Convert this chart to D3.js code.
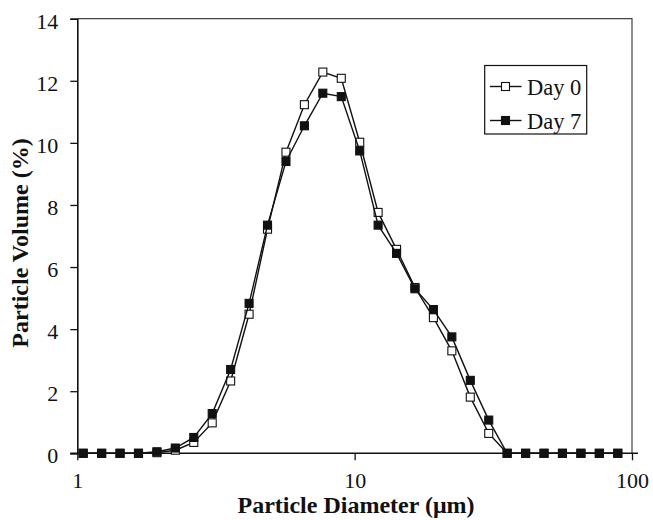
<!DOCTYPE html>
<html>
<head>
<meta charset="utf-8">
<script src="https://cdn.jsdelivr.net/npm/d3@7"></script>
<style>
  html, body { margin: 0; padding: 0; background: #fff; }
  svg { display: block; }
  text { font-family: "Liberation Serif", "Times New Roman", serif; fill: #111; }
</style>
</head>
<body>
<script>
// Particle diameters (µm)
const diameters = [1.05, 1.224, 1.426, 1.662, 1.937, 2.257, 2.63, 3.065, 3.572, 4.163,
  4.851, 5.654, 6.589, 7.678, 8.948, 10.43, 12.15, 14.16, 16.5, 19.23,
  22.41, 26.12, 30.44, 35.47, 41.34, 48.18, 56.14, 65.43, 76.25, 88.86];
// Particle volume (%)
const day0 = [0, 0, 0, 0, 0.02, 0.1, 0.35, 0.98, 2.33, 4.48,
  7.22, 9.7, 11.23, 12.28, 12.08, 10.02, 7.76, 6.57, 5.34, 4.37,
  3.3, 1.81, 0.64, 0, 0, 0, 0, 0, 0, 0];
const day7 = [0, 0, 0, 0, 0.05, 0.17, 0.51, 1.28, 2.7, 4.83,
  7.35, 9.4, 10.55, 11.6, 11.49, 9.74, 7.35, 6.44, 5.3, 4.63,
  3.75, 2.35, 1.07, 0, 0, 0, 0, 0, 0, 0];
const xTicks = [1, 10, 100];
const yTicks = [0, 2, 4, 6, 8, 10, 12, 14];
const seriesNames = ["Day 0", "Day 7"];

(function () {
const W = 653, H = 520;
const pL = 77.3, pR = 632, pT = 18.7, pB = 453.3;

const svg = d3.select("body").append("svg").attr("width", W).attr("height", H);

const x = d3.scaleLog().domain([1, 100]).range([pL, pR]);
const y = d3.scaleLinear().domain([0, 14]).range([pB, pT]);

// plot frame (top and right)
svg.append("path")
  .attr("d", `M${pL},${pT}H${pR}V${pB}`)
  .attr("fill", "none").attr("stroke", "#444").attr("stroke-width", 1.2);

// y axis
const yAxis = d3.axisLeft(y).tickValues(yTicks).tickSize(7).tickPadding(12).tickFormat(d3.format("d"));
const gy = svg.append("g").attr("transform", `translate(${pL},0)`).call(yAxis);
gy.select(".domain").attr("stroke", "#111").attr("stroke-width", 1.6);
gy.selectAll(".tick line").attr("stroke", "#111").attr("stroke-width", 1.3);
gy.selectAll(".tick text").attr("font-size", 22).attr("dy", "0.43em")
  .style("font-family", "Liberation Serif").attr("fill", "#111");

// x axis at y = 0
const xAxis = d3.axisBottom(x).tickValues(xTicks).tickSize(7).tickFormat(d3.format("d"));
const gx = svg.append("g").attr("transform", `translate(0,${y(0)})`).call(xAxis);
gx.select(".domain").attr("d", `M${pL - 7},0H${pR + 6}`).attr("stroke", "#111").attr("stroke-width", 1.6);
gx.selectAll(".tick line").attr("stroke", "#111").attr("stroke-width", 1.3);
gx.selectAll(".tick text").attr("font-size", 22).attr("y", 34.7).attr("dy", 0)
  .style("font-family", "Liberation Serif").attr("fill", "#111");

// axis titles
svg.append("text")
  .attr("x", 356).attr("y", 513)
  .attr("text-anchor", "middle").attr("font-size", 24).attr("font-weight", "bold")
  .text("Particle Diameter (μm)");
svg.append("text")
  .attr("transform", `translate(27.5,243) rotate(-90)`)
  .attr("text-anchor", "middle").attr("font-size", 24).attr("font-weight", "bold")
  .text("Particle Volume (%)");

const line = d3.line().x(d => x(d[0])).y(d => y(d[1]));
const ms = 8;
function drawSeries(vals, fill) {
  const pts = diameters.map((d, i) => [d, vals[i]]);
  svg.append("path").datum(pts).attr("d", line)
    .attr("fill", "none").attr("stroke", "#111").attr("stroke-width", 1.4);
  svg.append("g").selectAll("rect").data(pts).join("rect")
    .attr("x", d => x(d[0]) - ms / 2).attr("y", d => y(d[1]) - ms / 2)
    .attr("width", ms).attr("height", ms)
    .attr("fill", fill).attr("stroke", "#111").attr("stroke-width", 1.1);
}
drawSeries(day0, "#fff");
drawSeries(day7, "#111");

// legend
const lg = svg.append("g");
lg.append("rect").attr("x", 484.7).attr("y", 65.5).attr("width", 102).attr("height", 68.5)
  .attr("fill", "#fff").attr("stroke", "#111").attr("stroke-width", 1.2);
const legendRows = [{ name: seriesNames[0], fill: "#fff", cy: 86.5 }, { name: seriesNames[1], fill: "#111", cy: 120.5 }];
legendRows.forEach(r => {
  lg.append("line").attr("x1", 490).attr("x2", 521.5).attr("y1", r.cy).attr("y2", r.cy)
    .attr("stroke", "#111").attr("stroke-width", 1.4);
  lg.append("rect").attr("x", 505.5 - ms / 2).attr("y", r.cy - ms / 2).attr("width", ms).attr("height", ms)
    .attr("fill", r.fill).attr("stroke", "#111").attr("stroke-width", 1.1);
  lg.append("text").attr("x", 527).attr("y", r.cy + 8.3).attr("font-size", 22.5).text(r.name);
});
})();
</script>
</body>
</html>
